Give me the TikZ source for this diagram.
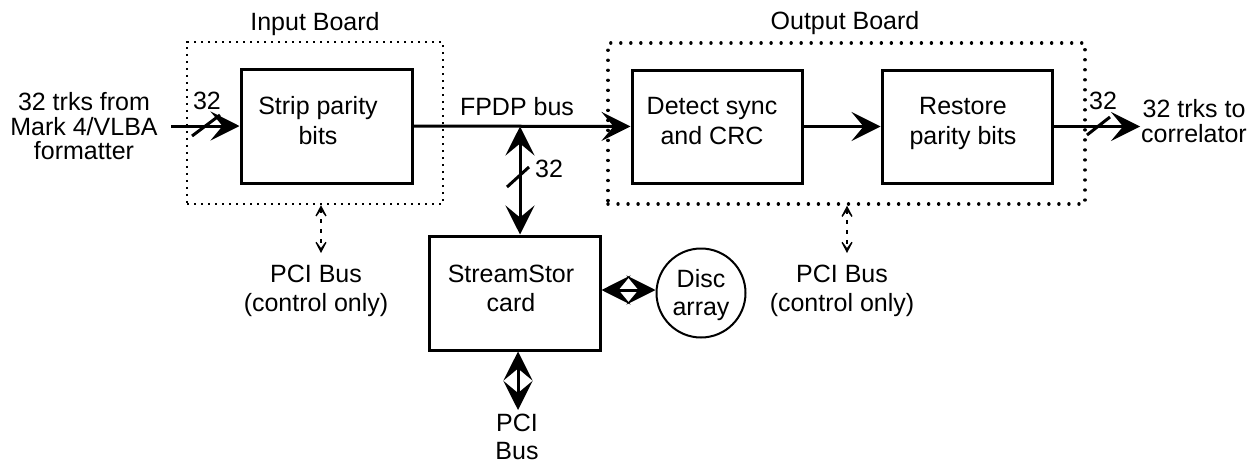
\documentclass[tikz,border=0pt]{standalone}
\usepackage{fontspec}
\setmainfont{Liberation Sans}
\usetikzlibrary{arrows.meta}
\begin{document}
\begin{tikzpicture}[x=0.5pt,y=-0.5pt,
  blk/.style={draw,line width=1.5pt,minimum width=85.5pt,minimum height=57pt,inner sep=0},
  board/.style={draw,inner sep=0},
  dotin/.style={line width=1.2pt,dash pattern=on 1.1pt off 2.4pt},
  dotout/.style={line width=1.7pt,dash pattern=on 0.01pt off 5pt,line cap=round},
  txt/.style={inner sep=0,align=center,font=\fontsize{12.5}{15}\selectfont},
  big/.tip={Stealth[length=14.5pt,width=14.5pt,inset=6pt]},
  conn/.style={line width=1.5pt,-big},
  bconn/.style={line width=1.5pt,big-big},
  small/.tip={Stealth[length=9pt,width=9.5pt,inset=6.5pt]},
  pcic/.style={line width=1pt,dash pattern=on 2pt off 3pt,small-small},
  slash/.style={line width=1.5pt}
]
\useasboundingbox (0,0) rectangle (1258,466);

% boards
\node[board,dotin,minimum width=128pt,minimum height=81pt] (inboard) at (315,123) {};
\node[board,dotout,minimum width=238.5pt,minimum height=80.5pt] (outboard) at (846.5,123.5) {};
\node[txt] (inlbl) at (315,23.6) {Input Board};
\node[txt] (outlbl) at (845,23.5) {Output Board};

% blocks
\node[blk] (strip) at (326.5,126) {};
\node[blk,minimum width=85pt,minimum height=56.5pt] (detect) at (717,126.5) {};
\node[blk,minimum width=85pt,minimum height=56.5pt] (restore) at (967,126.5) {};
\node[blk] (stream) at (514.5,293) {};
\node[draw,circle,line width=1pt,minimum size=44.5pt,inner sep=0] (disc) at (701,293) {};

% block texts
\node[txt] (striptxt) at (318,121) {Strip parity\\bits};
\node[txt] (detecttxt) at (712,121) {Detect sync\\and CRC};
\node[txt] (restoretxt) at (963,123.6) {Restore\\parity bits};
\node[txt,font=\fontsize{12.5}{14.5}\selectfont] (streamtxt) at (511,288.5) {StreamStor\\card};
\node[txt,font=\fontsize{12.5}{14}\selectfont] (disctxt) at (701,294.6) {Disc\\array};

% outer texts
\node[txt,font=\fontsize{12.5}{12.25}\selectfont] (lefttxt) at (84,126.5) {32 trks from\\Mark 4/VLBA\\formatter};
\node[txt,font=\fontsize{12.5}{12.5}\selectfont] (righttxt) at (1194,121.5) {32 trks to\\correlator};
\node[txt] (fpdp) at (517,106.7) {FPDP bus};
\node[txt] (n32a) at (207,101) {32};
\node[txt] (n32b) at (549,169) {32};
\node[txt] (n32c) at (1103,101) {32};
\node[txt,font=\fontsize{12.5}{14}\selectfont] (pcitxt) at (517,437) {PCI\\Bus};
\node[txt,font=\fontsize{12.5}{14.5}\selectfont] (pcil) at (316,291) {PCI Bus\\(control only)};
\node[txt,font=\fontsize{12.5}{14.5}\selectfont] (pcir) at (842,291) {PCI Bus\\(control only)};

% coordinates
\coordinate (inL) at (171,126);
\coordinate (outR) at (1140,126.5);
\coordinate (fp) at (520,126.5);
\coordinate (pciB) at (518,410);
\coordinate (pciA) at (321,253);
\coordinate (pciC) at (847,253);

% connectors
\draw[conn] (inL) -- (strip.west);
\draw[conn] (strip.east) -- (detect.west);
\draw[conn] (detect.east) -- (restore.west);
\draw[conn] (restore.east) -- (outR);
\draw[bconn] (fp) -- (fp |- stream.north);
\draw[bconn] (stream.east |- 0,290) -- (disc.west |- 0,290);
\draw[bconn] (pciB |- stream.south) -- (pciB);
\draw[pcic] (pciA |- inboard.south) -- (pciA);
\draw[pcic] (pciC |- outboard.south) -- (pciC);

% bus-width slashes
\draw[slash] (192,136) -- (220,115);
\draw[slash] (507,187) -- (529,167);
\draw[slash] (1087,135) -- (1110,117);
\end{tikzpicture}
\end{document}
